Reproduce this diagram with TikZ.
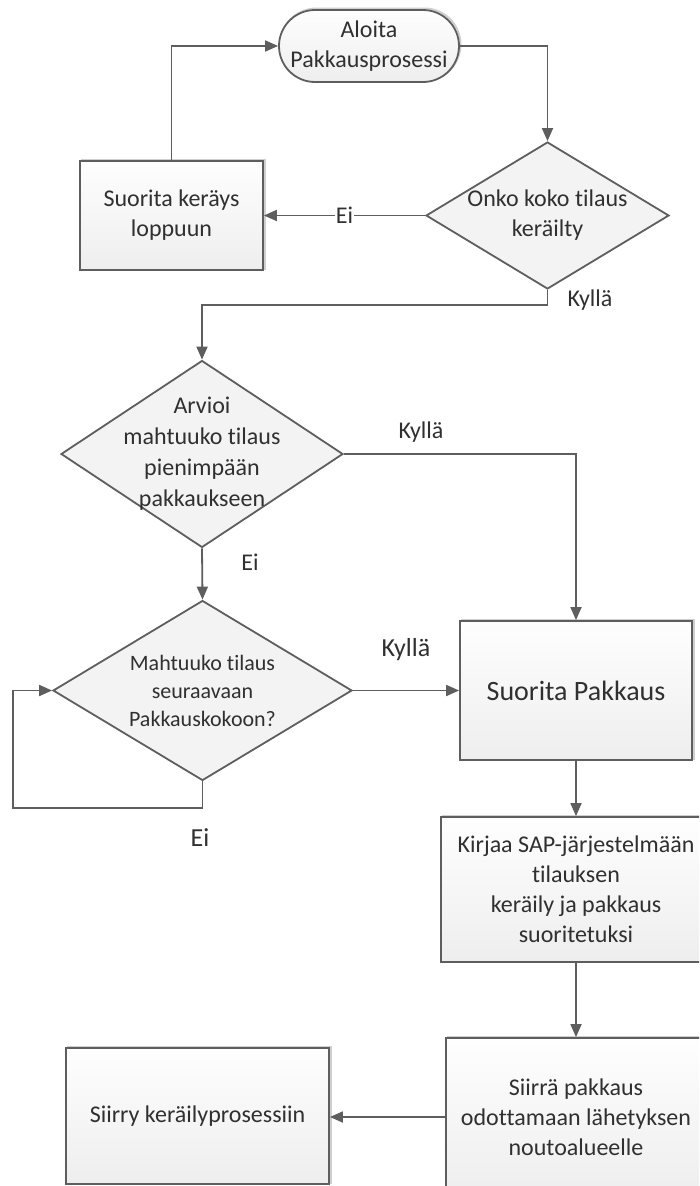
\documentclass[tikz,border=0pt]{standalone}
\usepackage{fontspec}
\setmainfont[RawFeature={-liga;-calt;-clig}]{Carlito}
\usetikzlibrary{shapes.geometric,arrows.meta}
\definecolor{lncol}{HTML}{5E5E5E}
\definecolor{txtcol}{HTML}{303030}
\definecolor{filltop}{HTML}{FEFEFE}
\definecolor{fillbot}{HTML}{EEEEEE}
\definecolor{dfill}{HTML}{F3F3F3}
\definecolor{shcol}{HTML}{CFCFCF}
\begin{document}
\begin{tikzpicture}[x=1pt,y=-1pt,
  base/.style={draw=lncol, line width=1.8pt, text=txtcol, align=center, inner sep=0pt,
    font=\fontsize{24}{30}\selectfont, top color=filltop, bottom color=fillbot,
    preaction={draw=shcol, line width=2pt, transform canvas={shift={(1.5pt,1.5pt)}}}},
  procbox/.style={base, rectangle},
  termbox/.style={base, rectangle, rounded corners=36pt},
  decbox/.style={draw=lncol, line width=1.8pt, diamond, inner sep=0pt, fill=dfill},
  dtext/.style={text=txtcol, align=center, inner sep=0pt},
  conn/.style={draw=lncol, line width=1.8pt, -{Triangle[length=13pt,width=11pt]}},
  lbl/.style={text=txtcol, font=\fontsize{24}{28}\selectfont, inner sep=1pt},
  biglbl/.style={text=txtcol, font=\fontsize{26}{30}\selectfont, inner sep=1pt},
]
\useasboundingbox (0,0) rectangle (699,1186);
\clip (0,0) rectangle (699,1186);
\fill[white] (0,0) rectangle (699,1186);

% nodes
\node[termbox, minimum width=180pt, minimum height=72pt] (start) at (369,46) {Aloita\\Pakkausprosessi};
\node[decbox, minimum width=243pt, minimum height=147pt,
  label={[dtext, font=\fontsize{24}{30}\selectfont]center:Onko koko tilaus\\keräilty}] (d1) at (547.5,215.5) {};
\node[procbox, minimum width=183pt, minimum height=109pt] (b1) at (171.5,215.5) {Suorita keräys\\loppuun};
\node[decbox, minimum width=282pt, minimum height=187pt,
  label={[dtext, font=\fontsize{24}{31}\selectfont]center:Arvioi\\mahtuuko tilaus\\pienimpään\\pakkaukseen}] (d2) at (202,454) {};
\node[decbox, minimum width=299pt, minimum height=180pt,
  label={[dtext, font=\fontsize{22}{28}\selectfont]center:Mahtuuko tilaus\\seuraavaan\\Pakkauskokoon?}] (d3) at (202.5,690.5) {};
\node[procbox, minimum width=232pt, minimum height=139pt, font=\fontsize{28}{34}\selectfont] (sp) at (576,690.5) {Suorita Pakkaus};
\node[procbox, minimum width=270pt, minimum height=145pt] (b5) at (576,889.5) {Kirjaa SAP-järjestelmään\\tilauksen\\keräily ja pakkaus\\suoritetuksi};
\node[procbox, minimum width=260pt, minimum height=158pt] (b6) at (576,1117) {Siirrä pakkaus\\odottamaan lähetyksen\\noutoalueelle};
\node[procbox, minimum width=263pt, minimum height=136pt] (b7) at (197.5,1116) {Siirry keräilyprosessiin};

% connectors
\draw[conn] (start.east) -| (d1.north);
\draw[conn] (d1.west) -- node[lbl, fill=white] (l1) {Ei} (b1.east);
\draw[conn] (b1.north) |- (start.west);
\draw[conn] (d1.south) -- ++(0,15) -| (d2.north);
\node[lbl] (l2) at (590,300) {Kyllä};
\draw[conn] (d2.east) -| (sp.north);
\node[lbl] (l3) at (421,432) {Kyllä};
\draw[conn] (d2.south) -- (d3.north);
\node[lbl] (l4) at (250,562) {Ei};
\draw[conn] (d3.east) -- (sp.west);
\node[biglbl] (l5) at (406,650) {Kyllä};
\coordinate (lpA) at (202.5,808);
\coordinate (lpB) at (13,808);
\draw[conn] (d3.south) -- (lpA) -- (lpB) |- (d3.west);
\node[biglbl] (l6) at (200,838) {Ei};
\draw[conn] (sp.south) -- (b5.north);
\draw[conn] (b5.south) -- (b6.north);
\draw[conn] (b6.west) -- (b6.west -| b7.east);
\end{tikzpicture}
\end{document}
